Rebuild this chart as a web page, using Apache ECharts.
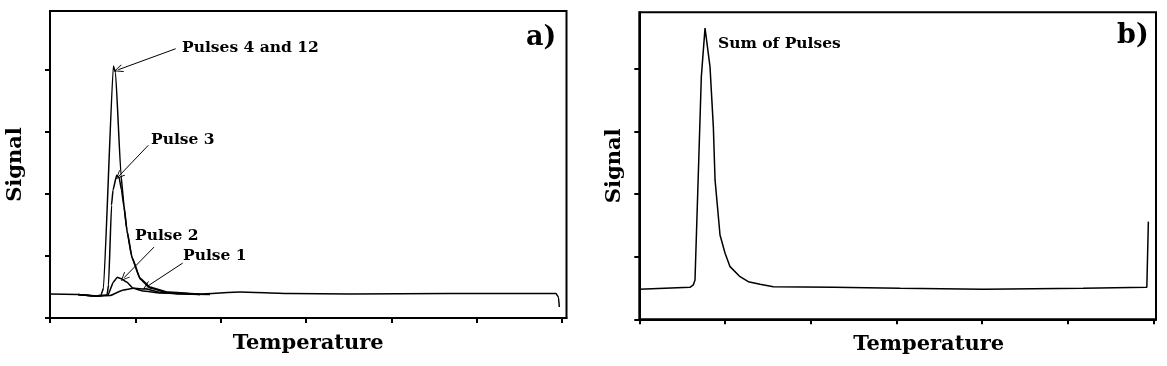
<!DOCTYPE html>
<html>
<head>
<meta charset="utf-8">
<script src="https://cdn.jsdelivr.net/npm/echarts@6/dist/echarts.min.js"></script>
<style>html,body{margin:0;padding:0;background:#fff;}#c{width:1167px;height:366px;}</style>
</head>
<body>
<div id="c"></div>
<script>
// ---- data (arbitrary units: temperature ticks every 100, signal ticks every 1) ----
var xTicks = [0, 100, 200, 300, 400, 500, 600];
var yTicks = [0, 1, 2, 3, 4];

var pulse4x = [0, 32.8, 55.1, 59.8, 62.7, 74.2, 76.8, 83.2, 86.7, 90.2, 96.1, 105.5, 117.2, 137.1, 175.8, 222.7, 281.3, 351.6, 468.8, 593.0, 595.9, 596.9];
var pulse4y = [0.386, 0.378, 0.353, 0.369, 0.482, 4.056, 3.952, 2.297, 1.815, 1.414, 0.980, 0.643, 0.498, 0.418, 0.386, 0.418, 0.394, 0.386, 0.394, 0.394, 0.337, 0.177];

var pulse3x = [32.8, 55.1, 66.8, 68.6, 72.1, 73.8, 78.1, 80.9, 83.8, 86.7, 90.2, 96.1, 105.5, 117.2, 137.1, 175.8];
var pulse3y = [0.378, 0.353, 0.369, 0.530, 1.815, 2.056, 2.297, 2.265, 2.056, 1.783, 1.398, 0.964, 0.627, 0.482, 0.410, 0.378];

var pulse2x = [32.8, 55.1, 68.0, 74.2, 78.9, 83.2, 89.9, 97.6, 109.3, 128.9, 175.8];
var pulse2y = [0.378, 0.353, 0.369, 0.578, 0.654, 0.635, 0.578, 0.477, 0.434, 0.402, 0.378];

var pulse1x = [32.8, 55.1, 70.3, 85.9, 97.6, 113.3, 128.9, 152.3, 187.5];
var pulse1y = [0.378, 0.353, 0.361, 0.450, 0.477, 0.466, 0.413, 0.386, 0.378];

var sumX = [0, 59.2, 63.0, 65.0, 68.9, 72.4, 76.7, 82.5, 86.4, 88.4, 94.2, 100.1, 105.9, 117.6, 127.2, 140.9, 156.4, 226.5, 304.3, 401.2, 517.9, 592.3, 594.1];
var sumY = [0.48, 0.512, 0.549, 0.629, 2.336, 3.882, 4.656, 4.042, 3.082, 2.229, 1.349, 1.056, 0.842, 0.682, 0.602, 0.560, 0.522, 0.512, 0.496, 0.48, 0.496, 0.512, 1.562];

// annotation arrows: [label, startX, startY, endX, endY]
var arrows = [
  ['Pulses 4 and 12', 147.3, 4.333, 80.0, 3.995],
  ['Pulse 3', 115.2, 2.779, 80.9, 2.286],
  ['Pulse 2', 121.9, 1.141, 86.7, 0.647],
  ['Pulse 1', 155.5, 0.884, 113.3, 0.503]
];

function zip(a, b) { return a.map(function (v, i) { return [v, b[i]]; }); }

var FONT = '"DejaVu Serif", "Liberation Serif", serif';
var arrowPath = 'path://M5,0 L10,10 L8.8,10 L5,2.2 L1.2,10 L0,10 Z';

function xAx(idx, pad) {
  return {
    type: 'value', gridIndex: idx, min: 0, max: idx === 0 ? 605.3 : 603, interval: 100,
    name: 'Temperature', nameLocation: 'middle', nameGap: 15,
    nameTextStyle: { fontFamily: FONT, fontWeight: 'bold', fontSize: 21, color: '#000', padding: pad },
    axisLine: { show: true, onZero: false, lineStyle: { color: '#000', width: 2 } },
    axisTick: { show: true, inside: false, length: 5, customValues: xTicks, lineStyle: { color: '#000', width: 2 } },
    axisLabel: { show: false }, splitLine: { show: false }
  };
}
function yAx(idx, gap, max) {
  return {
    type: 'value', gridIndex: idx, min: 0, max: max, interval: 1,
    name: 'Signal', nameLocation: 'middle', nameGap: gap,
    nameTextStyle: { fontFamily: FONT, fontWeight: 'bold', fontSize: 21, color: '#000' },
    axisLine: { show: true, onZero: false, lineStyle: { color: '#000', width: 2 } },
    axisTick: { show: true, inside: false, length: 5, customValues: yTicks, lineStyle: { color: '#000', width: 2 } },
    axisLabel: { show: false }, splitLine: { show: false }
  };
}

var lineStyle = { color: '#000', width: 1.5 };
function pulseSeries(name, xs, ys, extra) {
  var s = {
    name: name, type: 'line', xAxisIndex: 0, yAxisIndex: 0,
    data: zip(xs, ys), showSymbol: false, symbol: 'none', smooth: 0.12, smoothMonotone: 'x',
    lineStyle: lineStyle, silent: true, animation: false
  };
  return Object.assign(s, extra || {});
}

var labelFont = 'bold 15.5px ' + FONT;
var chart = echarts.init(document.getElementById('c'), null, { renderer: 'canvas' });
chart.setOption({
  animation: false,
  backgroundColor: '#fff',
  grid: [
    { left: 50, top: 11, right: 600.5, bottom: 48, show: true, borderColor: '#000', borderWidth: 2, backgroundColor: 'transparent' },
    { left: 639.3, top: 12.3, right: 11, bottom: 46.7, show: true, borderColor: '#000', borderWidth: 2, backgroundColor: 'transparent' }
  ],
  xAxis: [xAx(0, [0, 0, 0, 0]), xAx(1, [0, 0, 0, 62])],
  yAxis: [yAx(0, 23.5, 4.94), yAx(1, 14, 4.91)],
  series: [
    pulseSeries('Pulses 4 and 12', pulse4x, pulse4y, {
      markLine: {
        silent: true, animation: false,
        symbol: ['none', arrowPath], symbolSize: [8, 9],
        label: { show: false },
        lineStyle: { color: '#000', width: 1, type: 'solid' },
        data: arrows.map(function (a) { return [{ coord: [a[1], a[2]] }, { coord: [a[3], a[4]] }]; })
      }
    }),
    pulseSeries('Pulse 3', pulse3x, pulse3y),
    pulseSeries('Pulse 2', pulse2x, pulse2y),
    pulseSeries('Pulse 1', pulse1x, pulse1y),
    {
      name: 'Sum of Pulses', type: 'line', xAxisIndex: 1, yAxisIndex: 1,
      data: zip(sumX, sumY), showSymbol: false, symbol: 'none', smooth: false,
      lineStyle: lineStyle, silent: true, animation: false
    }
  ],
  graphic: [
    { type: 'text', x: 182, y: 48, style: { text: 'Pulses 4 and 12', font: labelFont, fill: '#000', align: 'left', verticalAlign: 'middle' } },
    { type: 'text', x: 151, y: 140, style: { text: 'Pulse 3', font: labelFont, fill: '#000', align: 'left', verticalAlign: 'middle' } },
    { type: 'text', x: 135, y: 236, style: { text: 'Pulse 2', font: labelFont, fill: '#000', align: 'left', verticalAlign: 'middle' } },
    { type: 'text', x: 183, y: 256, style: { text: 'Pulse 1', font: labelFont, fill: '#000', align: 'left', verticalAlign: 'middle' } },
    { type: 'text', x: 718, y: 44, style: { text: 'Sum of Pulses', font: labelFont, fill: '#000', align: 'left', verticalAlign: 'middle' } },
    { type: 'text', x: 526, y: 38, style: { text: 'a)', font: 'bold 27px ' + FONT, fill: '#000', align: 'left', verticalAlign: 'middle' } },
    { type: 'text', x: 1117, y: 36, style: { text: 'b)', font: 'bold 27px ' + FONT, fill: '#000', align: 'left', verticalAlign: 'middle' } }
  ]
});
</script>
</body>
</html>
